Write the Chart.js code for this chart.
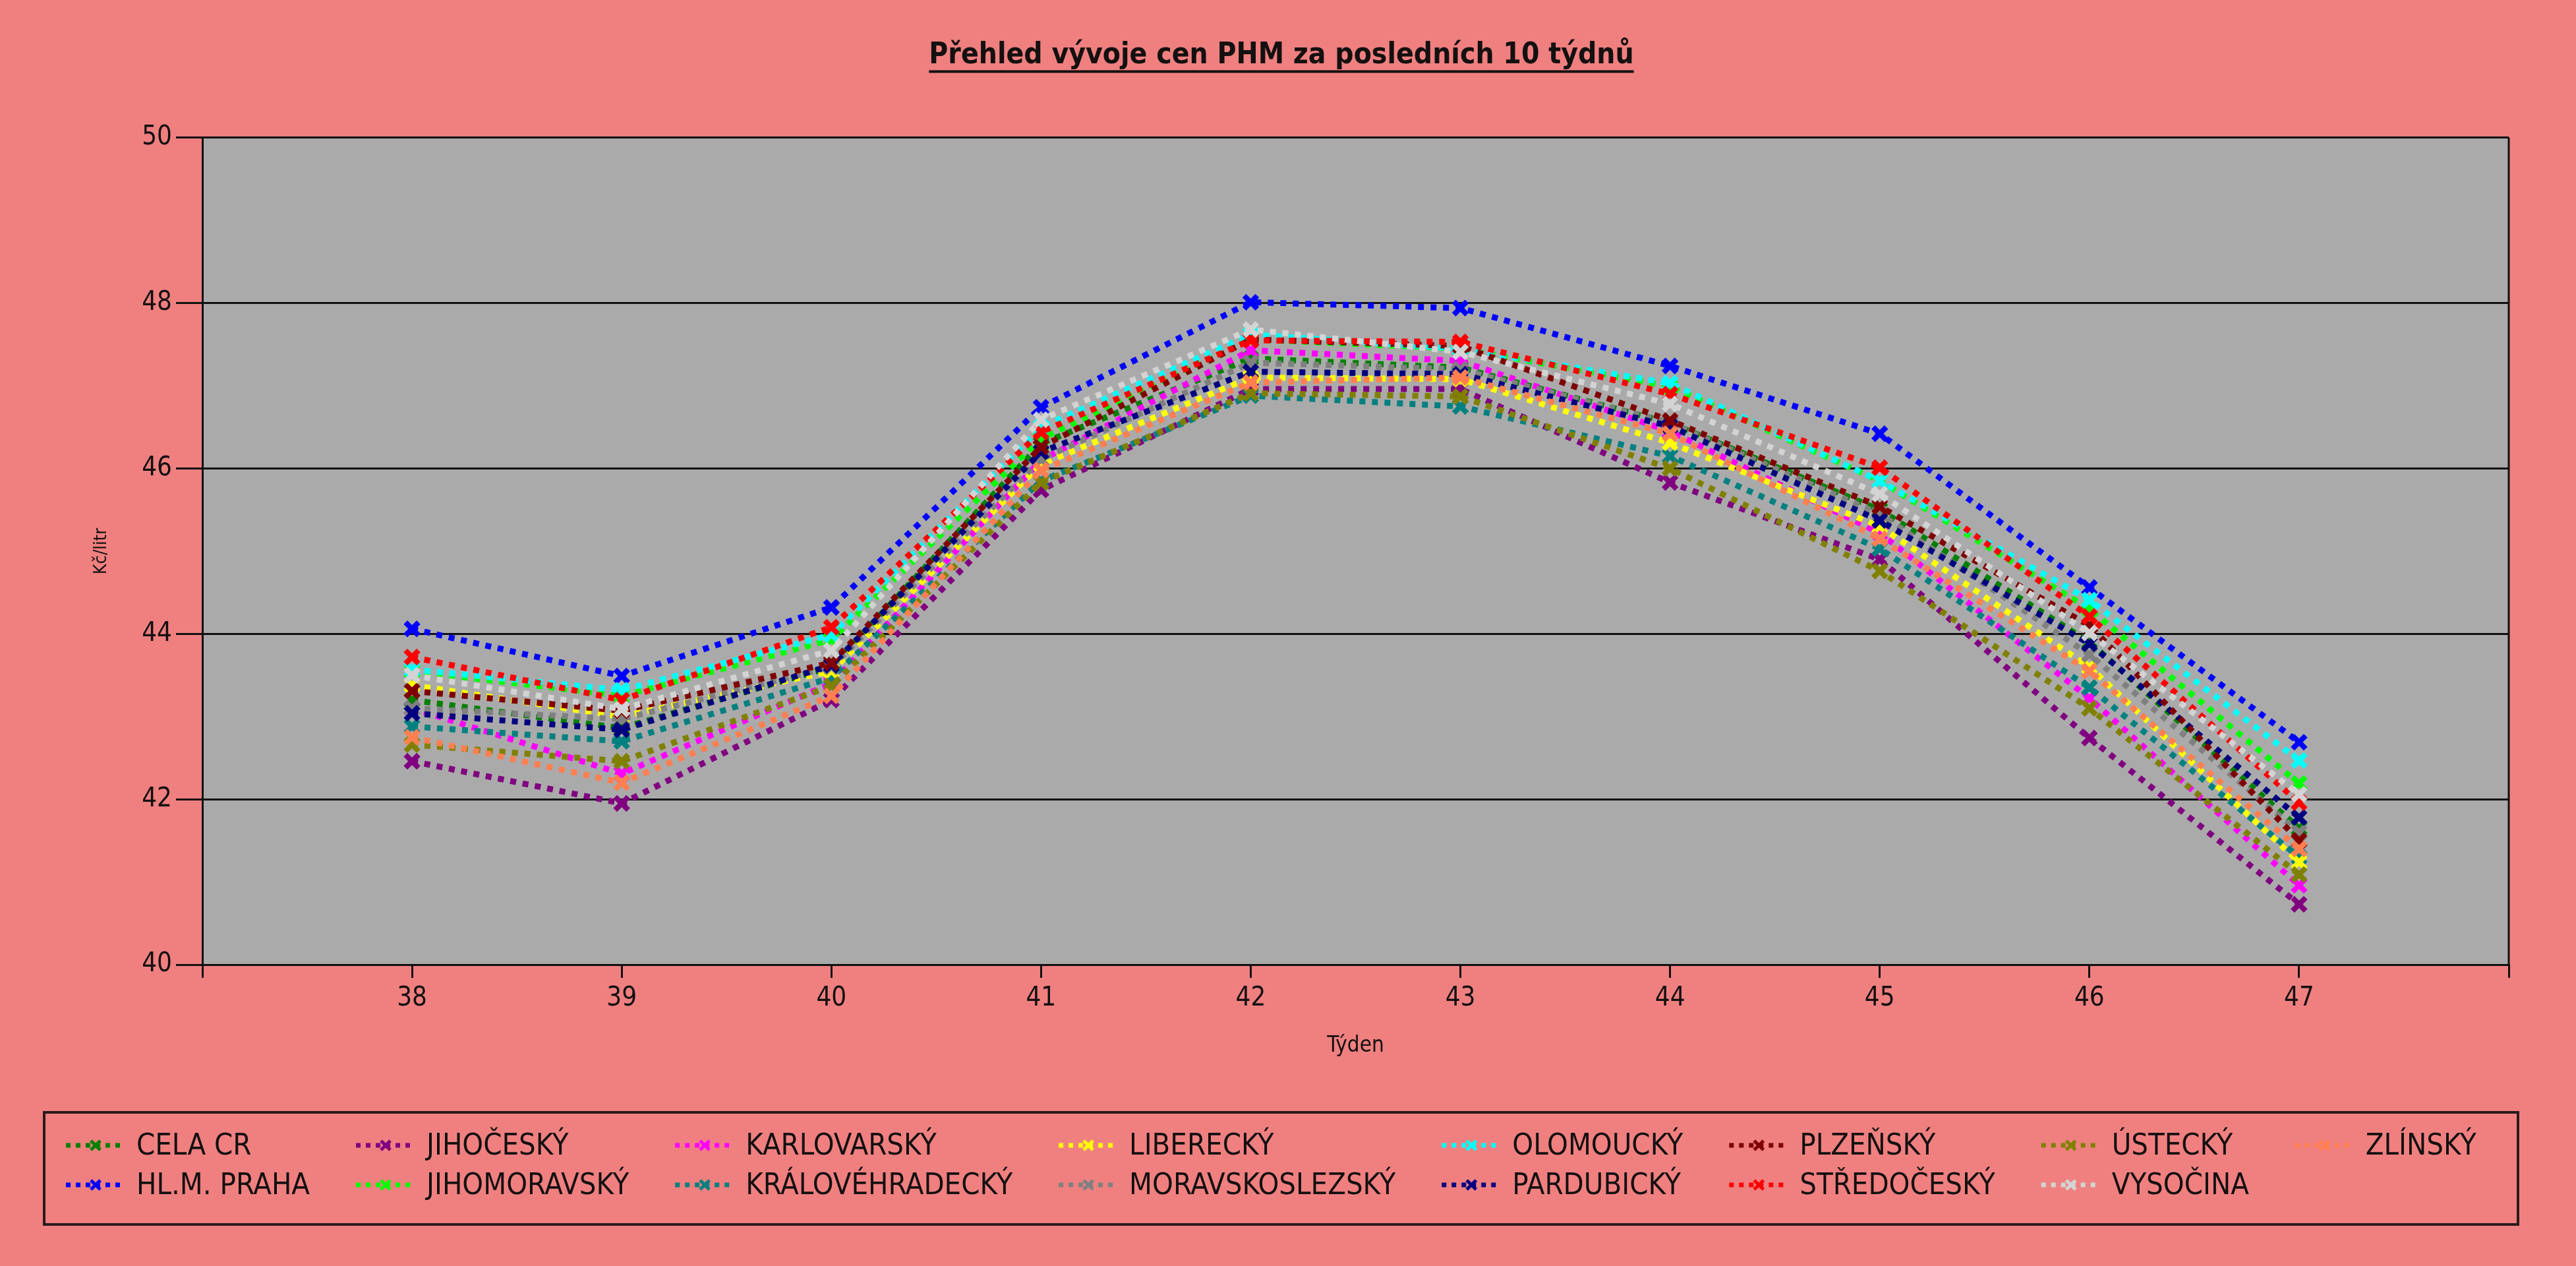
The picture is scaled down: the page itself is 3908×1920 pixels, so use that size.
<!DOCTYPE html>
<html>
<head>
<meta charset="utf-8">
<script src="https://cdn.jsdelivr.net/npm/chart.js@4.4.0/dist/chart.umd.min.js"></script>
<style>
  html, body { margin: 0; padding: 0; background: #F08080; }
  #wrap { width: 3908px; height: 1920px; }
</style>
</head>
<body>
<div id="wrap"><canvas id="chart_phm" width="3908" height="1920"></canvas></div>
<script>
// tydny a kraje
var weeks = [38, 39, 40, 41, 42, 43, 44, 45, 46, 47];
var regions = ['CELA CR', 'HL.M. PRAHA', 'JIHOČESKÝ', 'JIHOMORAVSKÝ', 'KARLOVARSKÝ', 'KRÁLOVÉHRADECKÝ',
  'LIBERECKÝ', 'MORAVSKOSLEZSKÝ', 'OLOMOUCKÝ', 'PARDUBICKÝ', 'PLZEŇSKÝ', 'STŘEDOČESKÝ',
  'ÚSTECKÝ', 'VYSOČINA', 'ZLÍNSKÝ'];
var colors = ['#008000', '#0000FF', '#800080', '#00FF00', '#FF00FF', '#008080',
  '#FFFF00', '#808080', '#00FFFF', '#000080', '#800000', '#FF0000',
  '#808000', '#D3D3D3', '#FF7F50'];

// ceny Kč/litr
var cela_cr         = [43.20, 42.86, 43.60, 46.30, 47.33, 47.22, 46.55, 45.50, 43.90, 41.65];
var praha           = [44.06, 43.49, 44.32, 46.74, 48.01, 47.94, 47.24, 46.42, 44.56, 42.69];
var jihocesky       = [42.46, 41.95, 43.20, 45.74, 46.96, 46.96, 45.83, 44.90, 42.74, 40.73];
var jihomoravsky    = [43.55, 43.25, 43.93, 46.36, 47.56, 47.45, 46.99, 45.85, 44.30, 42.19];
var karlovarsky     = [43.10, 42.31, 43.40, 46.10, 47.43, 47.30, 46.45, 45.22, 43.22, 40.96];
var kralovehradecky = [42.88, 42.70, 43.47, 45.85, 46.88, 46.75, 46.15, 45.03, 43.35, 41.30];
var liberecky       = [43.38, 43.00, 43.55, 46.05, 47.10, 47.08, 46.31, 45.30, 43.60, 41.24];
var moravskoslezsky = [43.10, 42.97, 43.60, 46.11, 47.28, 47.20, 46.55, 45.45, 43.75, 41.60];
var olomoucky       = [43.57, 43.32, 43.99, 46.50, 47.62, 47.45, 47.03, 45.85, 44.41, 42.47];
var pardubicky      = [43.04, 42.84, 43.62, 46.20, 47.17, 47.14, 46.51, 45.37, 43.88, 41.78];
var plzensky        = [43.31, 43.07, 43.65, 46.26, 47.56, 47.48, 46.58, 45.54, 44.10, 41.50];
var stredocesky     = [43.72, 43.20, 44.08, 46.44, 47.55, 47.53, 46.90, 46.01, 44.21, 41.96];
var ustecky         = [42.66, 42.46, 43.37, 45.83, 46.91, 46.87, 46.00, 44.76, 43.10, 41.09];
var vysocina        = [43.50, 43.09, 43.80, 46.59, 47.68, 47.41, 46.78, 45.69, 44.01, 42.06];
var zlinsky         = [42.75, 42.20, 43.25, 45.98, 47.04, 47.10, 46.42, 45.15, 43.55, 41.40];

var series = [cela_cr, praha, jihocesky, jihomoravsky, karlovarsky, kralovehradecky,
  liberecky, moravskoslezsky, olomoucky, pardubicky, plzensky, stredocesky,
  ustecky, vysocina, zlinsky];

var fontFamily = '"DejaVu Sans Condensed", "DejaVu Sans", sans-serif';
var textColor = '#141010';

var datasets = regions.map(function (name, i) {
  return {
    label: name,
    data: series[i].map(function (v, j) { return { x: weeks[j], y: v }; }),
    borderColor: colors[i],
    backgroundColor: colors[i],
    borderWidth: 9,
    borderDash: [9, 10],
    fill: false,
    tension: 0,
    pointStyle: 'crossRot',
    pointRadius: 14,
    pointBorderWidth: 8,
    pointBorderColor: colors[i],
    order: regions.length - i
  };
});

// pozadi grafu
var plotBackground = {
  id: 'plotBackground',
  beforeDraw: function (chart) {
    var ctx = chart.ctx, a = chart.chartArea;
    ctx.save();
    ctx.fillStyle = '#F08080';
    ctx.fillRect(0, 0, chart.width, chart.height);
    ctx.fillStyle = '#AAAAAA';
    ctx.fillRect(a.left, a.top, a.right - a.left, a.bottom - a.top);
    ctx.restore();
  },
  afterDraw: function (chart) {
    var ctx = chart.ctx, a = chart.chartArea;
    ctx.save();
    ctx.strokeStyle = '#111';
    ctx.lineWidth = 3;
    ctx.beginPath();
    ctx.moveTo(a.right, a.top);
    ctx.lineTo(a.right, a.bottom);
    ctx.stroke();
    // podtrzeni nadpisu
    var tb = chart.titleBlock;
    var t = chart.options.plugins.title;
    ctx.font = 'bold ' + t.font.size + 'px ' + fontFamily;
    var w = ctx.measureText(t.text).width;
    var cx = (tb.left + tb.right) / 2;
    var y = tb.top + t.padding.top + t.font.size * 1.2 / 2 + t.font.size * 0.55;
    ctx.strokeStyle = textColor;
    ctx.lineWidth = 4;
    ctx.beginPath();
    ctx.moveTo(cx - w / 2, y);
    ctx.lineTo(cx + w / 2, y);
    ctx.stroke();
    ctx.restore();
  }
};

// legenda ve dvou radcich
var legendBox = {
  id: 'legendBox',
  afterDraw: function (chart) {
    var ctx = chart.ctx;
    var left = 67, top = 1687, right = 3820, bottom = 1857;
    var rows = [1737, 1797];
    ctx.save();
    ctx.strokeStyle = '#2b1b1b';
    ctx.lineWidth = 4;
    ctx.strokeRect(left, top, right - left, bottom - top);
    ctx.font = '45px ' + fontFamily;
    ctx.textBaseline = 'middle';
    ctx.textAlign = 'left';
    var ds = chart.data.datasets;
    var x = 100;
    for (var c = 0; c < Math.ceil(ds.length / 2); c++) {
      var w = 0;
      for (var r = 0; r < 2; r++) {
        var d = ds[c * 2 + r];
        if (!d) continue;
        var y = rows[r];
        ctx.strokeStyle = d.borderColor;
        ctx.lineWidth = 7;
        ctx.setLineDash([7, 8]);
        ctx.beginPath();
        ctx.moveTo(x, y);
        ctx.lineTo(x + 90, y);
        ctx.stroke();
        ctx.setLineDash([]);
        ctx.lineWidth = 5;
        Chart.helpers.drawPoint(ctx, { pointStyle: 'crossRot', radius: 10, rotation: 0, borderWidth: 5 }, x + 45, y);
        ctx.fillStyle = textColor;
        ctx.fillText(d.label, x + 107, y + 2);
        w = Math.max(w, ctx.measureText(d.label).width);
      }
      x += 107 + w + 70;
    }
    ctx.restore();
  }
};

var chart_phm = document.getElementById('chart_phm').getContext('2d');
var chartPhm = new Chart(chart_phm, {
  type: 'line',
  data: { datasets: datasets },
  options: {
    responsive: false,
    animation: false,
    devicePixelRatio: 1,
    layout: { padding: { left: 82, right: 102, top: 0, bottom: 270 } },
    plugins: {
      legend: { display: false },
      tooltip: { enabled: false },
      title: {
        display: true,
        text: 'Přehled vývoje cen PHM za posledních 10 týdnů',
        color: textColor,
        font: { family: fontFamily, size: 44, weight: 'bold' },
        padding: { top: 58, bottom: 98 }
      }
    },
    scales: {
      x: {
        type: 'linear',
        min: 37,
        max: 48,
        afterFit: function (scale) { scale.height = 187; },
        ticks: {
          stepSize: 1,
          color: textColor,
          padding: 8,
          font: { family: fontFamily, size: 40 },
          callback: function (v) { return (v >= 38 && v <= 47) ? String(v) : ''; }
        },
        grid: { drawOnChartArea: false, color: '#111', lineWidth: 3, tickLength: 20 },
        border: { color: '#111', width: 3 },
        title: {
          display: true,
          text: 'Týden',
          color: textColor,
          font: { family: fontFamily, size: 33 },
          padding: { top: 0, bottom: 44 }
        }
      },
      y: {
        min: 40,
        max: 50,
        afterFit: function (scale) { scale.width = 225; },
        ticks: {
          stepSize: 2,
          color: textColor,
          padding: 6,
          font: { family: fontFamily, size: 40 }
        },
        grid: { color: '#111', lineWidth: 3, tickLength: 40 },
        border: { color: '#111', width: 3 },
        title: {
          display: true,
          text: 'Kč/litr',
          color: textColor,
          font: { family: fontFamily, size: 27 },
          padding: { top: 56, bottom: 0 }
        }
      }
    }
  },
  plugins: [plotBackground, legendBox]
});
</script>
</body>
</html>
